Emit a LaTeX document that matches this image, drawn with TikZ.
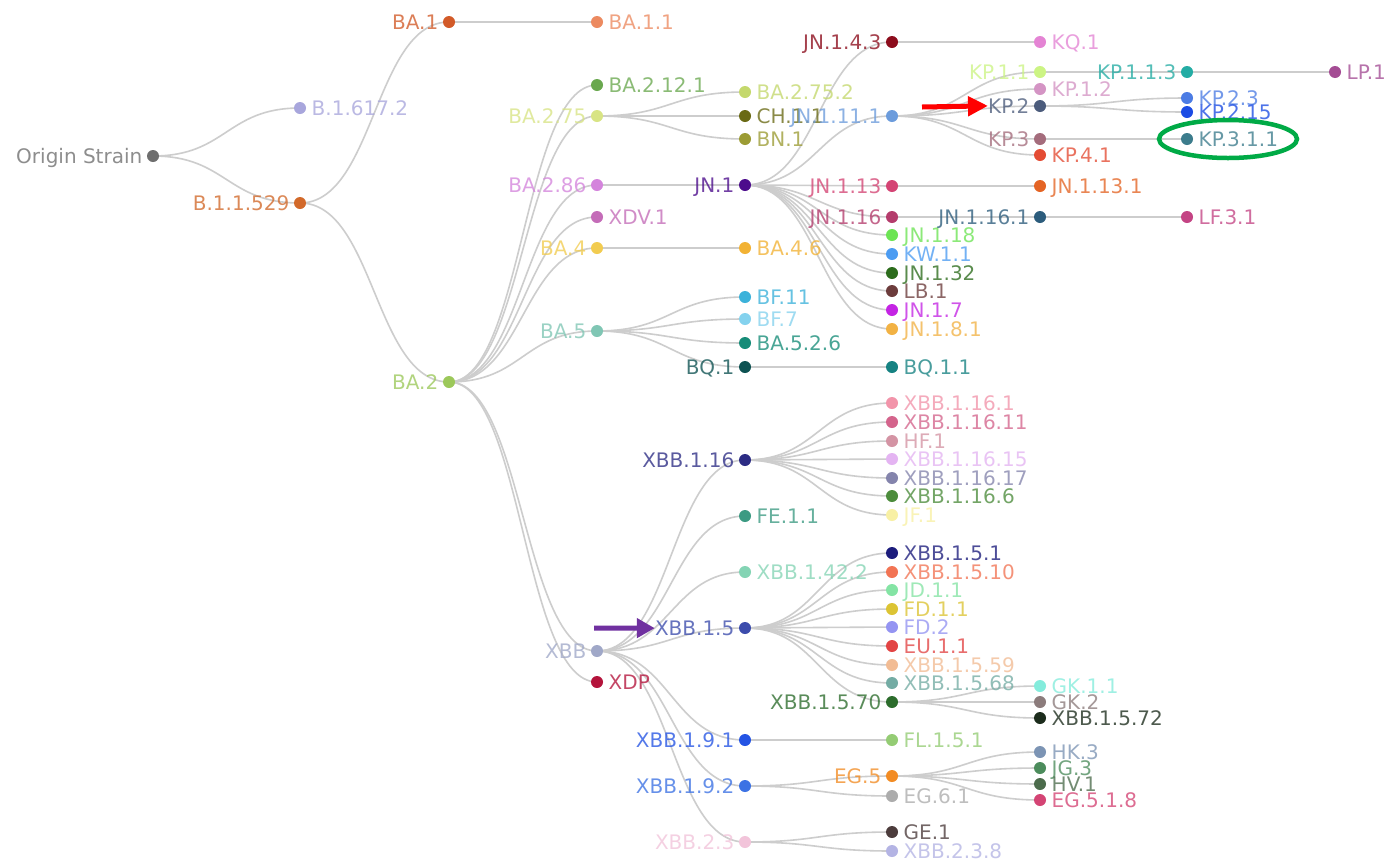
\documentclass[tikz,border=0pt]{standalone}
\usepackage{fontspec}
\setmainfont{DejaVu Sans}
\usetikzlibrary{arrows.meta,calc}
\pgfdeclarelayer{bg}
\pgfsetlayers{bg,main}
\definecolor{edgegray}{RGB}{205,205,205}
\definecolor{arrred}{RGB}{255,0,0}
\definecolor{arrpurple}{RGB}{112,48,160}
\definecolor{ringgreen}{RGB}{0,170,70}
\tikzset{
  dot/.style={circle,inner sep=0pt,minimum size=12pt},
  lab/.style={inner sep=0pt,font=\fontsize{20}{22}\selectfont,text opacity=0.78},
  edge/.style={draw=edgegray,line width=1.6pt,
    to path={let \p1=(\tikztostart), \p2=(\tikztotarget) in
      .. controls ({(\x1+\x2)/2},\y1) and ({(\x1+\x2)/2},\y2) .. (\tikztotarget)}},
  callout/.style={line width=5pt}
}
\newcommand\vnode[6]{%
  \definecolor{col#1}{HTML}{#4}%
  \node[dot,fill=col#1] (#1) at (#2,#3) {};%
  \if#6L%
    \node[lab,text=col#1,anchor=base east] (#1t) at ([xshift=-10.5pt,yshift=-7.3pt]#1.center) {#5};%
  \else
    \node[lab,text=col#1,anchor=base west] (#1t) at ([xshift=11.5pt,yshift=-7.3pt]#1.center) {#5};%
  \fi}
\begin{document}
\begin{tikzpicture}[x=1pt,y=-1pt]
\begin{pgfonlayer}{bg}
\fill[white] (0,0) rectangle (1387,863);
\end{pgfonlayer}
\useasboundingbox (0,0) rectangle (1387,863);
% column 1-3
\vnode{orig}{153}{156}{6e6e6e}{Origin Strain}{L}
\vnode{b16172}{300}{108}{a8a6dc}{B.1.617.2}{R}
\vnode{b11529}{300}{203}{d2692a}{B.1.1.529}{L}
\vnode{ba1}{449}{22}{d25a28}{BA.1}{L}
\vnode{ba2}{449}{382}{9cc85a}{BA.2}{L}
% column 4
\vnode{ba11}{597}{22}{ec8a60}{BA.1.1}{R}
\vnode{ba2121}{597}{85}{6aa84f}{BA.2.12.1}{R}
\vnode{ba275}{597}{116}{d8e484}{BA.2.75}{L}
\vnode{ba286}{597}{185}{d484dc}{BA.2.86}{L}
\vnode{xdv1}{597}{217}{c46cb8}{XDV.1}{R}
\vnode{ba4}{597}{248}{f2cc50}{BA.4}{L}
\vnode{ba5}{597}{331}{80c6b4}{BA.5}{L}
\vnode{xbb}{597}{651}{a0a8c8}{XBB}{L}
\vnode{xdp}{597}{682}{b4143c}{XDP}{R}
% column 5
\vnode{ba2752}{745}{92}{c4d86c}{BA.2.75.2}{R}
\vnode{ch11}{745}{116}{6a6a14}{CH.1.1}{R}
\vnode{bn1}{745}{139}{9c9c34}{BN.1}{R}
\vnode{jn1}{745}{185}{4c0c8c}{JN.1}{L}
\vnode{ba46}{745}{248}{f2b234}{BA.4.6}{R}
\vnode{bf11}{745}{297}{3cb2da}{BF.11}{R}
\vnode{bf7}{745}{319}{84d2ee}{BF.7}{R}
\vnode{ba526}{745}{343}{168c78}{BA.5.2.6}{R}
\vnode{bq1}{745}{367}{0e5252}{BQ.1}{L}
\vnode{xbb116}{745}{460}{2c2c84}{XBB.1.16}{L}
\vnode{fe11}{745}{516}{3c9a82}{FE.1.1}{R}
\vnode{xbb1422}{745}{572}{84d4b4}{XBB.1.42.2}{R}
\vnode{xbb15}{745}{628}{3c4cac}{XBB.1.5}{L}
\vnode{xbb191}{745}{740}{2454e4}{XBB.1.9.1}{L}
\vnode{xbb192}{745}{786}{3c72e4}{XBB.1.9.2}{L}
\vnode{xbb23}{745}{842}{f2c4da}{XBB.2.3}{L}
% column 6
\vnode{jn143}{892}{42}{8c0c1c}{JN.1.4.3}{L}
\vnode{jn1111}{892}{116}{6c9cdc}{JN.1.11.1}{L}
\vnode{jn113}{892}{186}{d44474}{JN.1.13}{L}
\vnode{jn116}{892}{217}{b43c6c}{JN.1.16}{L}
\vnode{jn118}{892}{235}{6ce454}{JN.1.18}{R}
\vnode{kw11}{892}{254}{4c9cf2}{KW.1.1}{R}
\vnode{jn132}{892}{273}{2c6c1c}{JN.1.32}{R}
\vnode{lb1}{892}{291}{6c3c3c}{LB.1}{R}
\vnode{jn17}{892}{310}{c424e4}{JN.1.7}{R}
\vnode{jn181}{892}{329}{f2b244}{JN.1.8.1}{R}
\vnode{bq11}{892}{367}{168282}{BQ.1.1}{R}
\vnode{x1161}{892}{403}{f294aa}{XBB.1.16.1}{R}
\vnode{x11611}{892}{422}{d4648c}{XBB.1.16.11}{R}
\vnode{hf1}{892}{441}{d494a4}{HF.1}{R}
\vnode{x11615}{892}{459}{e4b4f2}{XBB.1.16.15}{R}
\vnode{x11617}{892}{478}{8484ac}{XBB.1.16.17}{R}
\vnode{x1166}{892}{496}{4c8c3c}{XBB.1.16.6}{R}
\vnode{jf1}{892}{515}{f8f0a4}{JF.1}{R}
\vnode{x151}{892}{553}{1c1c7c}{XBB.1.5.1}{R}
\vnode{x1510}{892}{572}{f27454}{XBB.1.5.10}{R}
\vnode{jd11}{892}{590}{84e4a4}{JD.1.1}{R}
\vnode{fd11}{892}{609}{dcc434}{FD.1.1}{R}
\vnode{fd2}{892}{627}{9494f2}{FD.2}{R}
\vnode{eu11}{892}{646}{e24444}{EU.1.1}{R}
\vnode{x1559}{892}{665}{f2bc94}{XBB.1.5.59}{R}
\vnode{x1568}{892}{683}{74aca4}{XBB.1.5.68}{R}
\vnode{x1570}{892}{702}{2c6c2c}{XBB.1.5.70}{L}
\vnode{fl151}{892}{740}{94cc74}{FL.1.5.1}{R}
\vnode{eg5}{892}{776}{f28c24}{EG.5}{L}
\vnode{eg61}{892}{796}{acacac}{EG.6.1}{R}
\vnode{ge1}{892}{832}{4c3c3c}{GE.1}{R}
\vnode{x2338}{892}{851}{b4b4e4}{XBB.2.3.8}{R}
% column 7
\vnode{kq1}{1040}{42}{e484d4}{KQ.1}{R}
\vnode{kp11}{1040}{72}{ccf484}{KP.1.1}{L}
\vnode{kp12}{1040}{89}{d494c4}{KP.1.2}{R}
\vnode{kp2}{1040}{106}{4c5c7c}{KP.2}{L}
\vnode{kp3}{1040}{139}{a46c7c}{KP.3}{L}
\vnode{kp41}{1040}{155}{e44c34}{KP.4.1}{R}
\vnode{jn1131}{1040}{186}{e46424}{JN.1.13.1}{R}
\vnode{jn1161}{1040}{217}{2c5c7c}{JN.1.16.1}{L}
\vnode{gk11}{1040}{686}{84ecdc}{GK.1.1}{R}
\vnode{gk2}{1040}{702}{8c7c7c}{GK.2}{R}
\vnode{x1572}{1040}{718}{1c2c1c}{XBB.1.5.72}{R}
\vnode{hk3}{1040}{752}{7c94b4}{HK.3}{R}
\vnode{jg3}{1040}{768}{4c8c5c}{JG.3}{R}
\vnode{hv1}{1040}{784}{4c6c4c}{HV.1}{R}
\vnode{eg518}{1040}{800}{d44474}{EG.5.1.8}{R}
% column 8-9
\vnode{kp113}{1187}{72}{24aca4}{KP.1.1.3}{L}
\vnode{kp23}{1187}{98}{4c7ce4}{KP.2.3}{R}
\vnode{kp215}{1187}{112}{1c4ce4}{KP.2.15}{R}
\vnode{kp311}{1187}{139}{3c7c8c}{KP.3.1.1}{R}
\vnode{lf31}{1187}{217}{c44484}{LF.3.1}{R}
\vnode{lp1}{1335}{72}{a44c94}{LP.1}{R}
% edges
\begin{pgfonlayer}{bg}
\foreach \a/\b in {orig/b16172, orig/b11529, b11529/ba1, b11529/ba2, ba1/ba11,
  ba2/ba2121, ba2/ba275, ba2/ba286, ba2/xdv1, ba2/ba4, ba2/ba5, ba2/xbb, ba2/xdp,
  ba275/ba2752, ba275/ch11, ba275/bn1, ba286/jn1, ba4/ba46,
  ba5/bf11, ba5/bf7, ba5/ba526, ba5/bq1, bq1/bq11,
  jn1/jn143, jn1/jn1111, jn1/jn113, jn1/jn116, jn1/jn118, jn1/kw11, jn1/jn132, jn1/lb1, jn1/jn17, jn1/jn181,
  jn143/kq1, jn1111/kp11, jn1111/kp12, jn1111/kp2, jn1111/kp3, jn1111/kp41,
  jn113/jn1131, jn116/jn1161, jn1161/lf31, kp11/kp113, kp113/lp1, kp2/kp23, kp2/kp215, kp3/kp311,
  xbb/xbb116, xbb/fe11, xbb/xbb1422, xbb/xbb15, xbb/xbb191, xbb/xbb192, xbb/xbb23,
  xbb116/x1161, xbb116/x11611, xbb116/hf1, xbb116/x11615, xbb116/x11617, xbb116/x1166, xbb116/jf1,
  xbb15/x151, xbb15/x1510, xbb15/jd11, xbb15/fd11, xbb15/fd2, xbb15/eu11, xbb15/x1559, xbb15/x1568, xbb15/x1570,
  x1570/gk11, x1570/gk2, x1570/x1572,
  xbb191/fl151, xbb192/eg5, xbb192/eg61, eg5/hk3, eg5/jg3, eg5/hv1, eg5/eg518,
  xbb23/ge1, xbb23/x2338}
  \draw[edge] (\a.center) to (\b.center);
\end{pgfonlayer}
% annotations
\coordinate (redtail) at (922,107);
\draw[callout,arrred,-{Triangle[length=20pt,width=19pt]}] (redtail) -- (kp2t.west);
\coordinate (purpletail) at (594,628);
\draw[callout,arrpurple,-{Triangle[length=18pt,width=19pt]}] (purpletail) -- (xbb15t.west);
\coordinate (ringc) at (1228,139);
\draw[ringgreen,line width=4.5pt] (ringc) ellipse [x radius=69, y radius=19];
\end{tikzpicture}
\end{document}
